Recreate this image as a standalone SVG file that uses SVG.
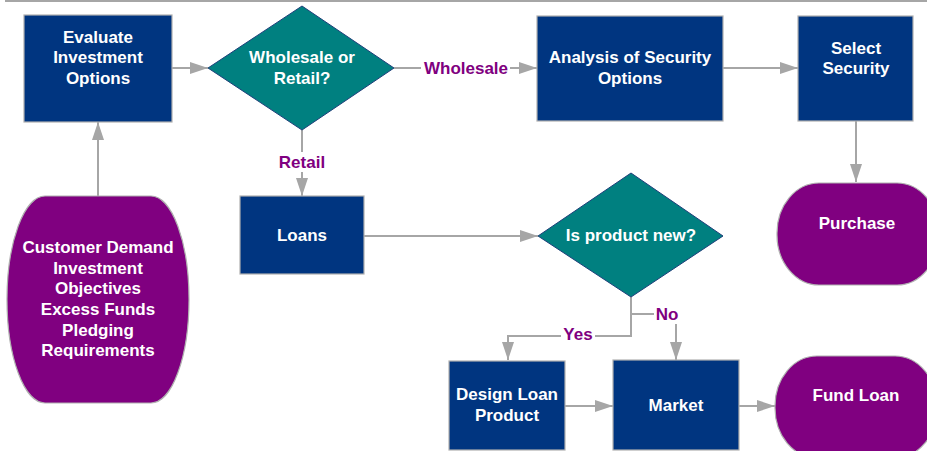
<svg xmlns="http://www.w3.org/2000/svg" width="927" height="451" viewBox="0 0 927 451">
<defs>
<style>
.box{fill:#003580;stroke:#b0b0b0;stroke-width:1.2}
.dia{fill:#008080;stroke:#1f3f7a;stroke-width:1}
.term{fill:#800080;stroke:#b0b0b0;stroke-width:1.2}
.t{font-family:"Liberation Sans",Arial,sans-serif;font-weight:bold;font-size:17px;fill:#ffffff;text-anchor:middle}
.lbl{font-family:"Liberation Sans",Arial,sans-serif;font-weight:bold;font-size:17px;fill:#800080;text-anchor:middle}
.ln{fill:none;stroke:#a6a6a6;stroke-width:2}
</style>
<marker id="ah" viewBox="0 0 18 12" refX="18" refY="6" markerWidth="18" markerHeight="12" markerUnits="userSpaceOnUse" orient="auto">
<path d="M0,0 L18,6 L0,12 Z" fill="#a6a6a6"/>
</marker>
</defs>
<rect width="927" height="451" fill="#ffffff"/>
<line x1="5" y1="1" x2="927" y2="1" stroke="#a6a6a6" stroke-width="2"/>

<g id="connectors">
<line class="ln" x1="172" y1="68" x2="208" y2="68" marker-end="url(#ah)"/>
<line class="ln" x1="394" y1="68" x2="537" y2="68" marker-end="url(#ah)"/>
<line class="ln" x1="723" y1="68" x2="798" y2="68" marker-end="url(#ah)"/>
<line class="ln" x1="856" y1="121" x2="856" y2="182" marker-end="url(#ah)"/>
<line class="ln" x1="98" y1="196" x2="98" y2="122" marker-end="url(#ah)"/>
<line class="ln" x1="302" y1="130" x2="302" y2="196" marker-end="url(#ah)"/>
<line class="ln" x1="364" y1="236" x2="538" y2="236" marker-end="url(#ah)"/>
<path class="ln" d="M631,297 L631,336 L508,336 L508,360" marker-end="url(#ah)"/>
<path class="ln" d="M631,314 L676,314 L676,360" marker-end="url(#ah)"/>
<line class="ln" x1="565" y1="406" x2="613" y2="406" marker-end="url(#ah)"/>
<line class="ln" x1="739" y1="406" x2="775" y2="406" marker-end="url(#ah)"/>
<rect x="421" y="58" width="89" height="20" fill="#ffffff"/>
<text class="lbl" x="466" y="74">Wholesale</text>
<rect x="276" y="152" width="52" height="20" fill="#ffffff"/>
<text class="lbl" x="302" y="168">Retail</text>
<rect x="561" y="325" width="34" height="20" fill="#ffffff"/>
<text class="lbl" x="578" y="340">Yes</text>
<rect x="654" y="304" width="27" height="20" fill="#ffffff"/>
<text class="lbl" x="667" y="320">No</text>
</g>

<g id="evaluate">
<rect class="box" x="24" y="15" width="148" height="107"/>
<text class="t" x="98" y="43">Evaluate</text>
<text class="t" x="98" y="63">Investment</text>
<text class="t" x="98" y="84">Options</text>
</g>
<g id="wholesale-retail">
<polygon class="dia" points="208,68 302,6 394,68 302,130"/>
<text class="t" x="302" y="63">Wholesale or</text>
<text class="t" x="302" y="84">Retail?</text>
</g>
<g id="analysis">
<rect class="box" x="537" y="16" width="186" height="105"/>
<text class="t" x="630" y="63">Analysis of Security</text>
<text class="t" x="630" y="84">Options</text>
</g>
<g id="select">
<rect class="box" x="798" y="16" width="115" height="105"/>
<text class="t" x="856" y="54">Select</text>
<text class="t" x="856" y="74">Security</text>
</g>
<g id="purchase">
<rect class="term" x="777" y="183" width="162" height="102" rx="42" ry="50"/>
<text class="t" x="857" y="229">Purchase</text>
</g>
<g id="customer">
<rect class="term" x="7" y="196" width="182" height="207" rx="38" ry="103"/>
<text class="t" x="98" y="253">Customer Demand</text>
<text class="t" x="98" y="274">Investment</text>
<text class="t" x="98" y="294">Objectives</text>
<text class="t" x="98" y="315">Excess Funds</text>
<text class="t" x="98" y="336">Pledging</text>
<text class="t" x="98" y="356">Requirements</text>
</g>
<g id="loans">
<rect class="box" x="240" y="196" width="124" height="78"/>
<text class="t" x="302" y="241">Loans</text>
</g>
<g id="product-new">
<polygon class="dia" points="538,236 631,173 723,236 631,297"/>
<text class="t" x="631" y="241">Is product new?</text>
</g>
<g id="design">
<rect class="box" x="449" y="361" width="116" height="89"/>
<text class="t" x="507" y="400">Design Loan</text>
<text class="t" x="507" y="421">Product</text>
</g>
<g id="market">
<rect class="box" x="613" y="360" width="126" height="90"/>
<text class="t" x="676" y="411">Market</text>
</g>
<g id="fund-loan">
<rect class="term" x="775" y="356" width="162" height="102" rx="42" ry="50"/>
<text class="t" x="856" y="401">Fund Loan</text>
</g>
</svg>
